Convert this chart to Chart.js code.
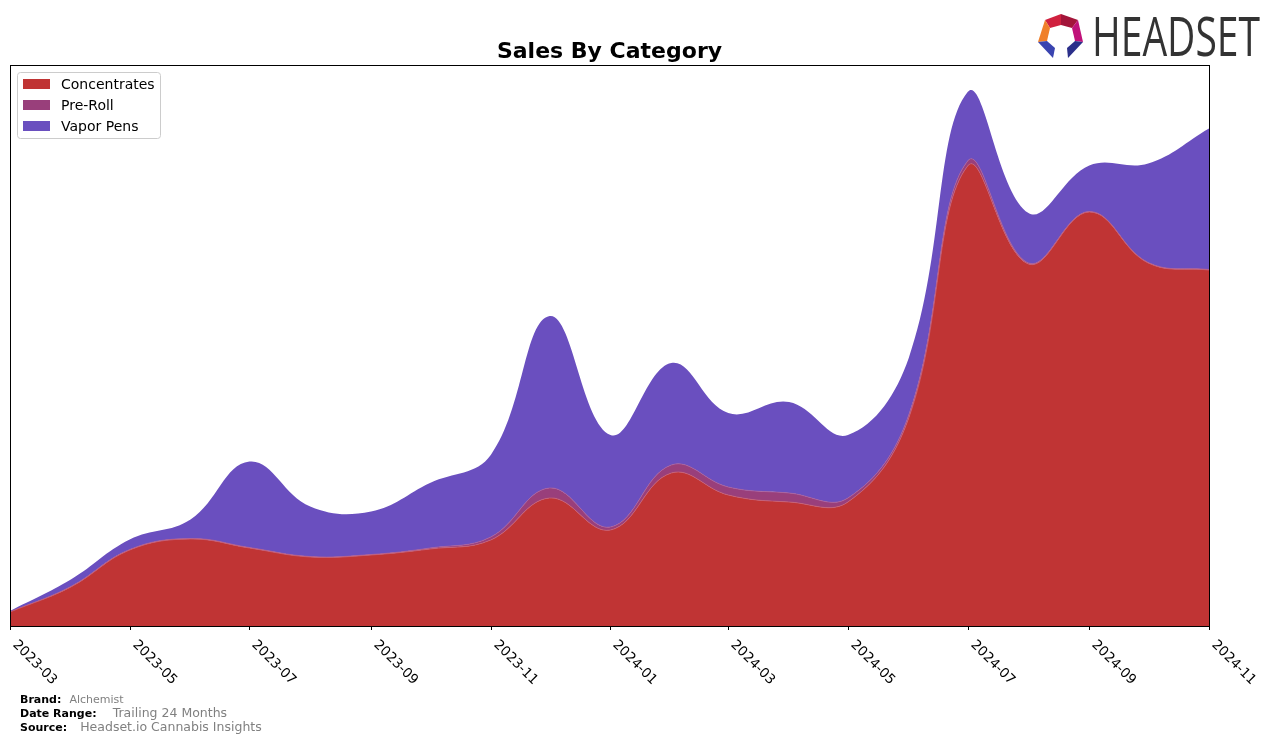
<!DOCTYPE html>
<html>
<head>
<meta charset="utf-8">
<script src="https://cdn.jsdelivr.net/npm/chart.js@4.4.1/dist/chart.umd.min.js"></script>
<style>
  html, body { margin: 0; padding: 0; background: #fff; }
  #wrap { position: relative; width: 1276px; height: 742px; }
  .foot { position: absolute; left: 20px; font-family: 'DejaVu Sans', sans-serif; white-space: nowrap; }
  .foot b { font-size: 11px; color: #000; }
  .foot span { color: #808080; }
</style>
</head>
<body>
<div id="wrap">
  <canvas id="chart" width="1276" height="742"></canvas>
  <div class="foot" style="top:688px;"><b>Brand:</b> <span style="font-size:11px;margin-left:3px;">Alchemist</span></div>
  <div class="foot" style="top:702px;"><b>Date Range:</b> <span style="font-size:12.5px;margin-left:11px;">Trailing 24 Months</span></div>
  <div class="foot" style="top:716px;"><b>Source:</b> <span style="font-size:12.5px;margin-left:8px;">Headset.io Cannabis Insights</span></div>
</div>
<script>
// monthly points, values (arbitrary units)
const months = ['2023-03', '2023-04', '2023-05', '2023-06', '2023-07', '2023-08', '2023-09',
    '2023-10', '2023-11', '2023-12', '2024-01', '2024-02', '2024-03', '2024-04', '2024-05',
    '2024-06', '2024-07', '2024-08', '2024-09', '2024-10', '2024-11'];
const concentrates = [14, 39, 76, 87, 78, 69, 71, 77, 86, 128, 96, 153, 131, 124, 124, 208, 460, 362, 414, 363, 356];
const preRoll = [0, 0.5, 0.5, 0.5, 0.5, 0.5, 0.5, 1, 3, 10, 3, 8, 8, 9, 4, 3, 5, 1, 0.5, 0.5, 0.5];
const vaporPens = [1, 7, 10, 19, 86, 50, 43, 65, 82, 172, 92, 102, 74, 91, 63, 57, 69, 50, 46, 99, 141];
const tickMonths = ['2023-03', '2023-05', '2023-07', '2023-09', '2023-11', '2024-01',
    '2024-03', '2024-05', '2024-07', '2024-09', '2024-11'];

const seriesNames = ['Concentrates', 'Pre-Roll', 'Vapor Pens'];
const seriesColors = ['#c03434', '#993f7b', '#6a4fbf'];

const DAY = 86400000;
const start = Date.UTC(2023, 2, 1);
function dayOf(m) {
    const [y, mo] = m.split('-').map(Number);
    return (Date.UTC(y, mo - 1, 1) - start) / DAY;
}
const toPoints = arr => months.map((m, i) => ({ x: dayOf(m), y: arr[i] }));

const decorations = {
    id: 'decorations',
    afterDraw(chart) {
        const { ctx, chartArea: a } = chart;
        const xs = chart.scales.x;
        ctx.save();

        // frame
        ctx.strokeStyle = '#000';
        ctx.lineWidth = 1;
        ctx.strokeRect(a.left + 0.5, a.top + 0.5, a.right - a.left, a.bottom - a.top);

        // ticks and rotated labels
        ctx.font = '13.5px "DejaVu Sans"';
        ctx.fillStyle = '#000';
        ctx.textAlign = 'left';
        ctx.textBaseline = 'top';
        tickMonths.forEach(m => {
            const px = Math.round(xs.getPixelForValue(dayOf(m))) + 0.5;
            ctx.beginPath();
            ctx.moveTo(px, a.bottom);
            ctx.lineTo(px, a.bottom + 4);
            ctx.stroke();
            ctx.save();
            ctx.translate(px + 9, a.bottom + 12);
            ctx.rotate(Math.PI / 4);
            ctx.fillText(m, 0, 0);
            ctx.restore();
        });

        // title
        ctx.font = 'bold 22px "DejaVu Sans"';
        ctx.textAlign = 'center';
        ctx.textBaseline = 'alphabetic';
        ctx.fillText('Sales By Category', (a.left + a.right) / 2, 58);

        // legend
        const lx = a.left + 7, ly = a.top + 7;
        ctx.fillStyle = 'rgba(255,255,255,0.8)';
        ctx.strokeStyle = '#cccccc';
        ctx.beginPath();
        ctx.roundRect(lx + 0.5, ly + 0.5, 143, 66, 3);
        ctx.fill();
        ctx.stroke();
        ctx.font = '14px "DejaVu Sans"';
        ctx.textAlign = 'left';
        ctx.textBaseline = 'middle';
        seriesNames.forEach((name, i) => {
            const cy = ly + 12 + i * 21;
            ctx.fillStyle = seriesColors[i];
            ctx.fillRect(lx + 6, cy - 5, 27, 10);
            ctx.fillStyle = '#000';
            ctx.fillText(name, lx + 44, cy + 1);
        });

        // logo
        const poly = (pts, c) => {
            ctx.fillStyle = c;
            ctx.beginPath();
            pts.forEach(([x, y], k) => k ? ctx.lineTo(x, y) : ctx.moveTo(x, y));
            ctx.closePath();
            ctx.fill();
        };
        poly([[1045, 20], [1061, 14], [1061, 25], [1050, 28]], '#d0213f');
        poly([[1061, 14], [1078, 20], [1072, 28], [1061, 25]], '#a3153a');
        poly([[1045, 20], [1050, 28], [1047, 41], [1038, 42]], '#f0802a');
        poly([[1078, 20], [1083, 42], [1075, 41], [1072, 28]], '#c0127a');
        poly([[1038, 42], [1047, 41], [1055, 48], [1053, 58]], '#3a44b0');
        poly([[1083, 42], [1075, 41], [1067, 48], [1068, 58]], '#2b2f8a');
        ctx.font = '54px "Open Sans"';
        ctx.fillStyle = '#333333';
        ctx.textBaseline = 'alphabetic';
        const w = ctx.measureText('HEADSET').width;
        ctx.save();
        ctx.translate(1092, 56);
        ctx.scale(168 / w, 1);
        ctx.fillText('HEADSET', 0, 0);
        ctx.restore();

        ctx.restore();
    }
};

const borders = ['#c4607a', '#a8609e', seriesColors[2]];
const seriesData = [concentrates, preRoll, vaporPens];

new Chart(document.getElementById('chart').getContext('2d'), {
    type: 'line',
    data: {
        datasets: seriesNames.map((name, i) => ({
            label: name,
            data: toPoints(seriesData[i]),
            backgroundColor: seriesColors[i],
            borderColor: borders[i],
            borderWidth: i === 2 ? 0 : 0.8,
            fill: i === 0 ? 'origin' : '-1',
            tension: 0.4,
            pointRadius: 0,
        }))
    },
    options: {
        responsive: false,
        animation: false,
        layout: { padding: { left: 10, right: 67, top: 65, bottom: 116 } },
        scales: {
            x: { type: 'linear', display: false, min: 0, max: dayOf('2024-11') },
            y: { display: false, stacked: true, min: 0, max: 561 }
        },
        plugins: {
            legend: { display: false },
            tooltip: { enabled: false },
            title: { display: false }
        }
    },
    plugins: [decorations]
});
</script>
</body>
</html>
